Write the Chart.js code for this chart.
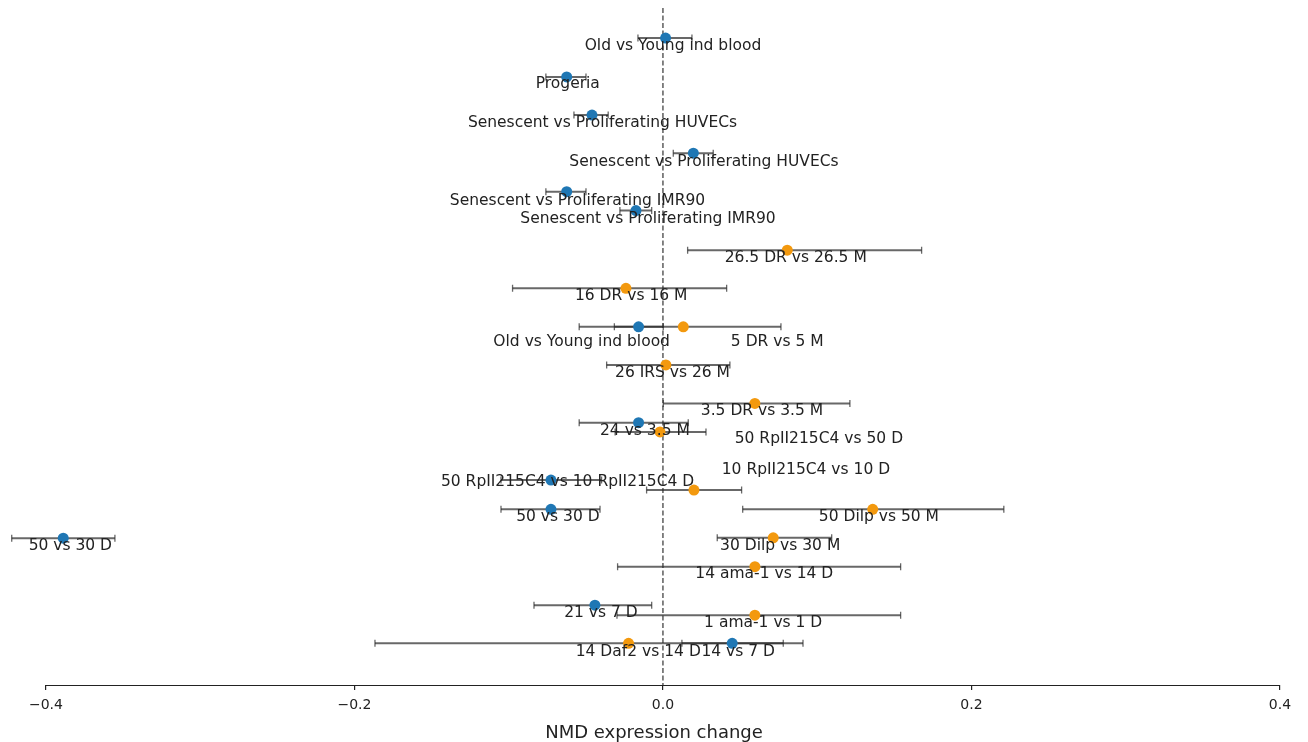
<!DOCTYPE html>
<html><head><meta charset="utf-8">
<script src="https://cdn.jsdelivr.net/npm/chart.js@4"></script>
<style>html,body{margin:0;padding:0;background:#fff;overflow:hidden}canvas{display:block}</style>
</head><body>
<canvas id="c" width="1308" height="742"></canvas>
<script>
// ---------- data ----------
const xTicks = [-0.4, -0.2, 0.0, 0.2, 0.4];
const xTitle = 'NMD expression change';
const xMin = -0.4298, xMax = 0.4182;
const yMin = 0, yMax = 17.584;

// blue series: ageing comparisons
const blueLabels = ['Old vs Young ind blood','Progeria','Senescent vs Proliferating HUVECs','Senescent vs Proliferating HUVECs',
  'Senescent vs Proliferating IMR90','Senescent vs Proliferating IMR90','Old vs Young ind blood','24 vs 3.5 M',
  '50 RpII215C4 vs 10 RpII215C4 D','50 vs 30 D','50 vs 30 D','21 vs 7 D','14 vs 7 D'];
const blueValues = [0.0017,-0.0624,-0.0460,0.0197,-0.0624,-0.0175,-0.0158,-0.0158,-0.0726,-0.0726,-0.3888,-0.0441,0.0449];
const blueLow    = [-0.0162,-0.0759,-0.0577,0.0067,-0.0759,-0.0279,-0.0315,-0.0543,-0.1050,-0.1050,-0.4222,-0.0836,0.0123];
const blueHigh   = [0.0188,-0.0499,-0.0355,0.0326,-0.0499,-0.0073,0.0002,0.0164,-0.0398,-0.0408,-0.3553,-0.0073,0.0780];
const blueRows   = [0.78,1.79,2.78,3.77,4.77,5.26,8.28,10.77,12.26,13.02,13.77,15.51,16.50];
const blueLabelX    = [0.0065,-0.0617,-0.0392,0.0266,-0.0554,-0.0097,-0.0527,-0.0117,-0.0618,-0.0681,-0.3842,-0.0402,0.0488];
const blueLabelRows = [0.99,1.98,2.99,3.99,5.01,5.48,8.67,10.99,12.32,13.23,13.97,15.71,16.72];

// orange series: interventions
const orangeLabels = ['26.5 DR vs 26.5 M','16 DR vs 16 M','5 DR vs 5 M','26 IRS vs 26 M','3.5 DR vs 3.5 M',
  '50 RpII215C4 vs 50 D','10 RpII215C4 vs 10 D','50 Dilp vs 50 M','30 Dilp vs 30 M','14 ama-1 vs 14 D',
  '1 ama-1 vs 1 D','14 Daf2 vs 14 D'];
const orangeValues = [0.0806,-0.0240,0.0132,0.0019,0.0596,-0.0019,0.0201,0.1360,0.0715,0.0596,0.0596,-0.0223];
const orangeLow    = [0.0160,-0.0975,-0.0543,-0.0365,0.0002,-0.0310,-0.0106,0.0517,0.0352,-0.0294,-0.0298,-0.1867];
const orangeHigh   = [0.1677,0.0413,0.0765,0.0434,0.1212,0.0279,0.0510,0.2210,0.1094,0.1541,0.1541,0.0908];
const orangeRows   = [6.29,7.28,8.28,9.27,10.27,11.01,12.52,13.02,13.76,14.51,15.77,16.50];
const orangeLabelX    = [0.0861,-0.0206,0.0741,0.0062,0.0642,0.1011,0.0927,0.1400,0.0760,0.0657,0.0650,-0.0160];
const orangeLabelRows = [6.50,7.48,8.67,9.47,10.47,11.19,12.00,13.21,13.97,14.70,15.97,16.72];

// ---------- styles ----------
const BLUE = '#1f77b4', ORANGE = 'rgb(243,153,14)';
const series = [
  {values: blueValues, low: blueLow, high: blueHigh, rows: blueRows, labels: blueLabels, lx: blueLabelX, ly: blueLabelRows},
  {values: orangeValues, low: orangeLow, high: orangeHigh, rows: orangeRows, labels: orangeLabels, lx: orangeLabelX, ly: orangeLabelRows}
];

const forestPlugin = {
  id: 'forest',
  beforeDatasetsDraw(chart) {
    const {ctx, chartArea: a, scales: {x, y}} = chart;
    ctx.save();
    const x0 = x.getPixelForValue(0);
    ctx.strokeStyle = '#444'; ctx.lineWidth = 1.3; ctx.setLineDash([5, 2.5]);
    ctx.beginPath(); ctx.moveTo(x0, a.top); ctx.lineTo(x0, a.bottom); ctx.stroke();
    ctx.setLineDash([]);
    ctx.strokeStyle = 'rgba(40,40,40,0.7)';
    series.forEach(s => {
      s.values.forEach((v, i) => {
        const yy = y.getPixelForValue(s.rows[i]);
        const l = x.getPixelForValue(s.low[i]), h = x.getPixelForValue(s.high[i]);
        ctx.lineWidth = 2;
        ctx.beginPath(); ctx.moveTo(l, yy); ctx.lineTo(h, yy); ctx.stroke();
        ctx.lineWidth = 1.3;
        ctx.beginPath();
        ctx.moveTo(l, yy - 3.5); ctx.lineTo(l, yy + 3.5);
        ctx.moveTo(h, yy - 3.5); ctx.lineTo(h, yy + 3.5);
        ctx.stroke();
      });
    });
    ctx.restore();
  },
  afterDatasetsDraw(chart) {
    const {ctx, chartArea: a, scales: {x, y}} = chart;
    ctx.save();
    ctx.font = '15.5px "DejaVu Sans"';
    ctx.fillStyle = '#222';
    ctx.textAlign = 'center'; ctx.textBaseline = 'middle';
    series.forEach(s => {
      s.labels.forEach((t, i) => {
        ctx.fillText(t, x.getPixelForValue(s.lx[i]), y.getPixelForValue(s.ly[i]));
      });
    });
    // trimmed bottom spine
    ctx.strokeStyle = '#222'; ctx.lineWidth = 1.2;
    ctx.beginPath();
    ctx.moveTo(x.getPixelForValue(xTicks[0]), a.bottom + 0.5);
    ctx.lineTo(x.getPixelForValue(xTicks[xTicks.length - 1]), a.bottom + 0.5);
    ctx.stroke();
    ctx.restore();
  }
};

new Chart(document.getElementById('c'), {
  type: 'scatter',
  data: {
    datasets: [
      {data: blueValues.map((v, i) => ({x: v, y: blueRows[i]})), backgroundColor: BLUE, borderWidth: 0, pointRadius: 5.5},
      {data: orangeValues.map((v, i) => ({x: v, y: orangeRows[i]})), backgroundColor: ORANGE, borderWidth: 0, pointRadius: 5.5}
    ]
  },
  options: {
    responsive: false, animation: false, devicePixelRatio: 1,
    layout: {autoPadding: false, padding: {top: 8, left: 0, right: 0, bottom: 0}},
    plugins: {legend: {display: false}, tooltip: {enabled: false}},
    scales: {
      x: {
        type: 'linear', min: xMin, max: xMax,
        afterBuildTicks: s => { s.ticks = xTicks.map(v => ({value: v})); },
        afterFit: s => { s.paddingLeft = 0; s.paddingRight = 0; s.height = 57; },
        grid: {drawOnChartArea: false, drawTicks: true, tickLength: 5, color: '#222', lineWidth: 1.2},
        border: {display: false},
        ticks: {padding: 7, color: '#222', font: {family: 'DejaVu Sans', size: 14},
                callback: v => Number(v).toFixed(1).replace('-', '\u2212')},
        title: {display: true, text: xTitle, color: '#222', font: {family: 'DejaVu Sans', size: 18, lineHeight: 1}, padding: {top: 10, bottom: 0}}
      },
      y: {type: 'linear', display: false, reverse: true, min: yMin, max: yMax}
    }
  },
  plugins: [forestPlugin]
});
</script>
</body></html>
